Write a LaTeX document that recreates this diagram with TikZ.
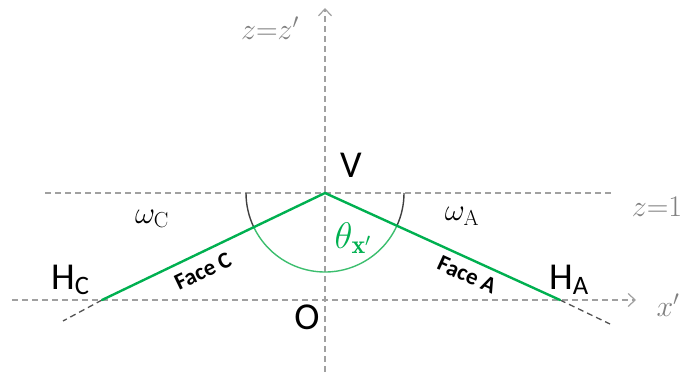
\RequirePackage{fix-cm}
\documentclass[tikz,border=0pt]{standalone}
\usepackage{fontspec}
\newfontfamily\calib{Carlito}
\usetikzlibrary{arrows.meta}
\definecolor{axgray}{RGB}{160,160,160}
\definecolor{txgray}{RGB}{128,128,128}
\definecolor{facegreen}{RGB}{0,176,80}
\definecolor{arcgreen}{RGB}{60,190,110}
\definecolor{arcdark}{RGB}{64,64,64}
\tikzset{
  axis/.style={draw=axgray, line width=1.3pt, dash pattern=on 6pt off 4pt},
  axarrow/.style={axis, -{Straight Barb[length=7pt,width=13pt,line width=1.2pt]}},
  face/.style={draw=facegreen, line width=2.4pt},
  ext/.style={draw=arcdark!90, line width=1.3pt, dash pattern=on 6pt off 4pt},
  lbl/.style={inner sep=0pt, font=\calib\fontsize{38}{40}\selectfont},
  facelbl/.style={inner sep=0pt, font=\calib\bfseries\fontsize{23}{25}\selectfont},
  mlbl/.style={inner sep=0pt, font=\fontsize{31}{33}\selectfont},
  thlbl/.style={inner sep=0pt, font=\fontsize{37}{39}\selectfont},
  glbl/.style={inner sep=0pt, text=txgray, font=\fontsize{30}{32}\selectfont}
}
\begin{document}
\begin{tikzpicture}[x=1pt,y=1pt]
\useasboundingbox (0,0) rectangle (687,375);
% coordinates
\coordinate (V) at (325,182);
\coordinate (O) at (325,75);
\coordinate (HC) at (102,75);
\coordinate (HA) at (560,75);
\coordinate (HCe) at (63,54);
\coordinate (HAe) at (610,51);
\coordinate (zL) at (45,182);
\coordinate (zR) at (613,182);
\coordinate (xL) at (12,75);
\coordinate (xR) at (636,75);
\coordinate (zB) at (325,3);
\coordinate (zT) at (325,367);
% axes
\draw[axis] (zL) -- (zR);
\draw[axarrow] (xL) -- (xR);
\draw[axarrow] (zB) -- (zT);
% extensions
\draw[ext] (HC) -- (HCe);
\draw[ext] (HA) -- (HAe);
% arcs
\draw[arcdark, line width=1.4pt] ([shift={(180:79)}]V) arc[start angle=180, end angle=205.6, radius=79];
\draw[arcdark, line width=1.4pt] ([shift={(335.5:79)}]V) arc[start angle=335.5, end angle=360, radius=79];
\draw[arcgreen, line width=1.4pt] ([shift={(205.6:79)}]V) arc[start angle=205.6, end angle=335.5, radius=79];
% faces
\draw[face, line cap=round] (HC) -- (V) -- (HA);
% labels
\node[lbl] (Vl) at (351,210) {V};
\node[lbl] (Ol) at (307,58) {O};
\node[lbl, anchor=base west] (HCl) at (51,86) {H\textsubscript{C}};
\node[lbl, anchor=base west] (HAl) at (549,86) {H\textsubscript{A}};
\node[facelbl, rotate=25.6] (FC) at (203,104) {Face C};
\node[facelbl, rotate=-24.5] (FA) at (467,100) {Face A};
\node[mlbl] (wC) at (152,156) {$\omega_{\mathrm{C}}$};
\node[mlbl] (wA) at (462,159) {$\omega_{\mathrm{A}}$};
\node[thlbl, text=facegreen] (th) at (353,137) {$\theta_{\mathbf{x'}}$};
\node[glbl] (z1) at (657,168) {$z{=}1$};
\node[glbl] (xp) at (668,70) {$x'$};
\node[glbl] (zz) at (270,347) {$z{=}z'$};
\end{tikzpicture}
\end{document}
